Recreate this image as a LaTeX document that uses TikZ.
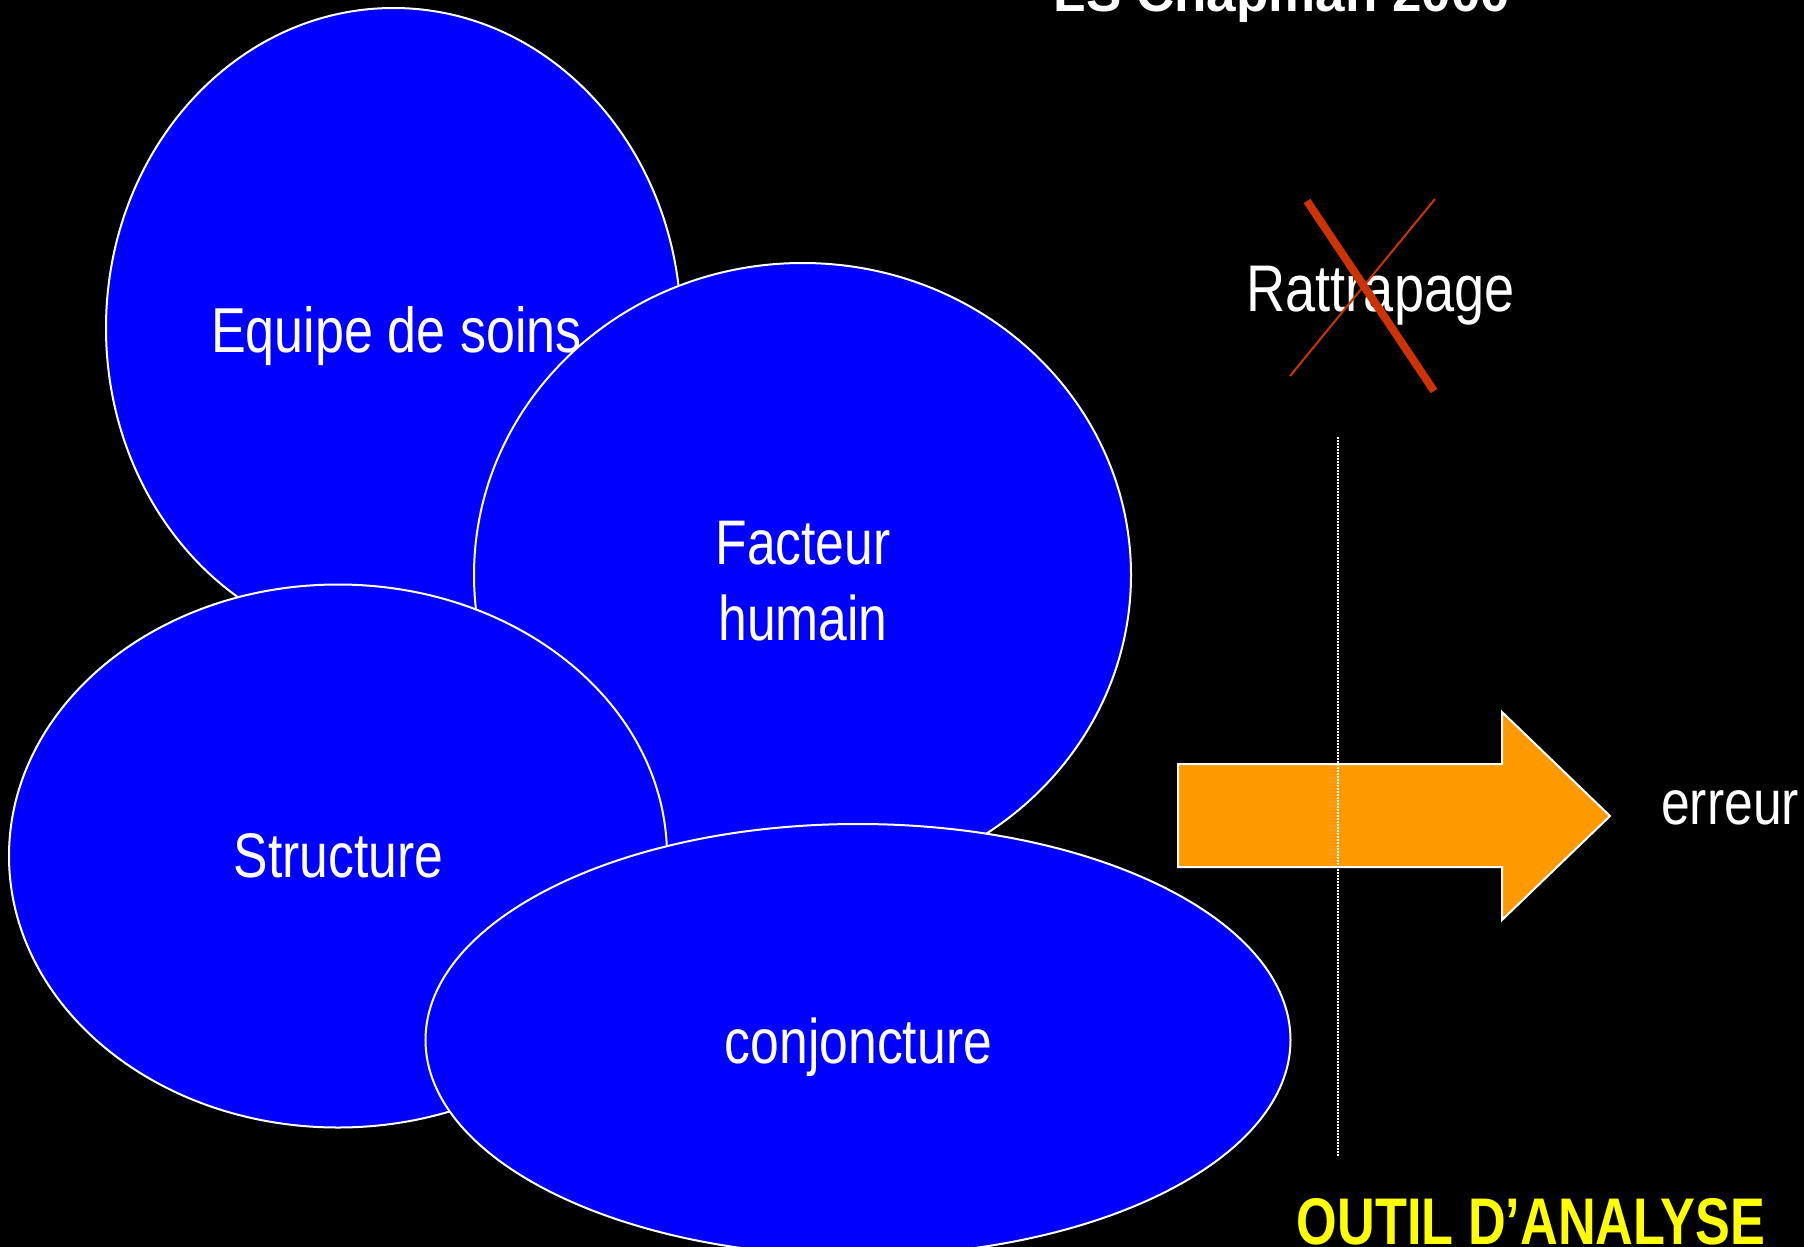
\documentclass[tikz,border=0pt]{standalone}
\usepackage{fontspec}
\setmainfont{Liberation Sans}[FakeStretch=0.82]
\newfontfamily\widefont{Liberation Sans}
\usetikzlibrary{shapes.geometric}
\definecolor{bblue}{HTML}{0000FF}
\definecolor{aorange}{HTML}{FF9900}
\definecolor{xred}{HTML}{CC3300}
\definecolor{yell}{HTML}{FFFF00}
\begin{document}
\begin{tikzpicture}[x=1pt,y=-1pt,
  blob/.style={ellipse, draw=white, line width=2pt, fill=bblue, inner sep=0pt},
  lbl/.style={text=white, anchor=base, inner sep=0pt, font=\fontsize{63}{70}\selectfont}]
\fill[black] (0,0) rectangle (1804,1247);
\useasboundingbox (0,0) rectangle (1804,1247);
% title (mostly cut off at the top)
\node[anchor=base, inner sep=0pt, text=white, font=\widefont\bfseries\fontsize{53}{60}\selectfont] (title) at (1282,12) {LS Chapman 2000};
% ellipses
\node[blob, minimum width=575pt, minimum height=640pt] (e1) at (393.5,328) {};
\node[lbl, font=\fontsize{63.5}{70}\selectfont] (t1) at (396.5,352) {Equipe de soins};
\node[blob, minimum width=657pt, minimum height=624pt] (e2) at (802.5,575) {};
\node[lbl] (t2a) at (803,564) {Facteur};
\node[lbl] (t2b) at (803,640) {humain};
\node[blob, minimum width=658pt, minimum height=543pt] (e3) at (338,856) {};
\node[lbl] (t3) at (338.5,877) {Structure};
\node[blob, minimum width=865pt, minimum height=432pt] (e4) at (858,1040) {};
\node[lbl] (t4) at (858.5,1063) {conjoncture};
% Rattrapage crossed out
\node[lbl, font=\fontsize{66}{72}\selectfont] (ratt) at (1380.5,311) {Rattrapage};
\coordinate (xa1) at (1307,201);
\coordinate (xa2) at (1434,391);
\coordinate (xb1) at (1435,199);
\coordinate (xb2) at (1290,376);
\draw[xred, line width=8pt] (xa1) -- (xa2);
\draw[xred, line width=2pt] (xb1) -- (xb2);
% arrow
\draw[fill=aorange, draw=white, line width=2pt, line join=miter]
  (1178,764) -- (1502,764) -- (1502,712) -- (1610,816) -- (1502,920) -- (1502,867) -- (1178,867) -- cycle;
\node[lbl, anchor=base west] (err) at (1661,824) {erreur};
% dotted separator
\coordinate (d1) at (1338,437);
\coordinate (d2) at (1338,1156);
\draw[white, line width=1.5pt, dash pattern=on 1.5pt off 1.5pt] (d1) -- (d2);
% bottom label
\node[anchor=base, inner sep=0pt, text=yell, font=\bfseries\fontsize{66}{72}\selectfont] (outil) at (1531,1244) {\scalebox{0.965}[1]{OUTIL D’ANALYSE}};
\end{tikzpicture}
\end{document}
